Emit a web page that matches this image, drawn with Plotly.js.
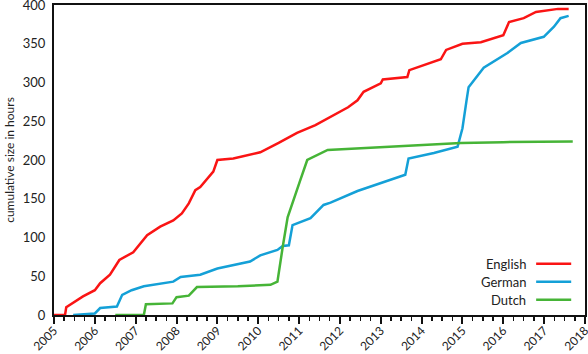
<!DOCTYPE html>
<html>
<head>
<meta charset="utf-8">
<script src="https://cdn.plot.ly/plotly-3.0.1.min.js"></script>
<style>
  body { margin: 0; background: #fff; }
  #plotDiv { width: 588px; height: 354px; }
</style>
</head>
<body>
<div id="plotDiv"></div>
<script>
// series names + colours
var names = ['English', 'German', 'Dutch'];
var colors = ['rgb(250, 20, 20)', 'rgb(20, 160, 215)', 'rgb(70, 180, 55)'];

// English (decimal years / hours)
var engX = [2005.0, 2005.27, 2005.3, 2005.5, 2005.71, 2006.0, 2006.13, 2006.37, 2006.6, 2006.94, 2007.28, 2007.6, 2007.92, 2008.13, 2008.3, 2008.46, 2008.58, 2008.9, 2009.0, 2009.39, 2010.05, 2010.5, 2010.95, 2011.4, 2011.84, 2012.2, 2012.43, 2012.58, 2013.0, 2013.05, 2013.65, 2013.7, 2014.47, 2014.6, 2015.0, 2015.45, 2016.0, 2016.14, 2016.5, 2016.8, 2017.34, 2017.6];
var engY = [0, 0, 10, 17, 24, 32, 41, 52, 71, 81, 103, 114, 122, 131, 144, 161, 165, 185, 200, 202, 210, 222, 235, 245, 258, 268, 277, 288, 299, 304, 307, 316, 330, 342, 350, 352, 361, 378, 383, 391, 395, 395];

// German
var gerX = [2005.47, 2006.0, 2006.13, 2006.54, 2006.67, 2006.9, 2007.2, 2007.92, 2008.1, 2008.58, 2009.0, 2009.8, 2010.05, 2010.47, 2010.6, 2010.75, 2010.84, 2011.28, 2011.6, 2011.77, 2012.43, 2013.24, 2013.6, 2013.68, 2014.3, 2014.88, 2015.0, 2015.1, 2015.15, 2015.52, 2016.1, 2016.43, 2016.99, 2017.24, 2017.4, 2017.6];
var gerY = [0, 2, 9, 11, 26, 32, 37, 43, 49, 52, 60, 69, 77, 84, 89, 90, 116, 125, 142, 145, 160, 174, 181, 202, 209, 217, 241, 277, 294, 319, 338, 351, 359, 372, 383, 386];

// Dutch
var dutX = [2006.5, 2007.2, 2007.25, 2007.9, 2008.0, 2008.3, 2008.5, 2009.5, 2010.3, 2010.47, 2010.6, 2010.72, 2011.03, 2011.2, 2011.7, 2013.3, 2014.96, 2016.0, 2017.7];
var dutY = [0, 0, 14, 15, 23, 25, 36, 37, 39, 43, 88, 126, 174, 200, 213, 217, 222, 223, 224];

var yearTicks = [2005, 2006, 2007, 2008, 2009, 2010, 2011, 2012, 2013, 2014, 2015, 2016, 2017, 2018];
var yTicks = [0, 50, 100, 150, 200, 250, 300, 350, 400];

var xs = [engX, gerX, dutX];
var ys = [engY, gerY, dutY];

var data = [];
for (var i = 0; i < names.length; i++) {
  data.push({
    x: xs[i],
    y: ys[i],
    mode: 'lines',
    type: 'scatter',
    name: names[i],
    line: { color: colors[i], width: 2.5 },
    showlegend: false
  });
}

// legend drawn by hand: label first, then line sample
var annotations = [];
var shapes = [];
for (var i = 0; i < names.length; i++) {
  var yy = 0.165 - i * 0.058;
  annotations.push({
    xref: 'paper', yref: 'paper', x: 0.893, y: yy,
    xanchor: 'right', yanchor: 'middle', showarrow: false,
    text: names[i], font: { size: 13, color: '#222' }
  });
  shapes.push({
    type: 'line', xref: 'paper', yref: 'paper',
    x0: 0.908, x1: 0.974, y0: yy, y1: yy,
    line: { color: colors[i], width: 2.5 }
  });
}

var layout = {
  width: 588,
  height: 354,
  font: { family: 'Lato, "Open Sans", sans-serif', size: 13, color: '#222' },
  paper_bgcolor: '#fff',
  plot_bgcolor: '#fff',
  margin: { l: 54, r: 3, t: 5, b: 39, pad: 0 },
  xaxis: {
    range: [2005, 2018],
    tickvals: yearTicks,
    ticktext: yearTicks.map(String),
    tickangle: -45,
    tickfont: { size: 12 },
    ticks: 'outside',
    ticklen: 7,
    tickwidth: 2,
    tickcolor: '#111',
    ticklabeloverflow: 'allow',
    ticklabelstandoff: -5,
    minor: { dtick: 0.25, tick0: 2005, ticks: 'outside', ticklen: 4, tickwidth: 1.5, tickcolor: '#111' },
    showgrid: false,
    zeroline: false,
    showline: true,
    linecolor: '#111',
    linewidth: 2,
    mirror: true
  },
  yaxis: {
    range: [0, 400],
    tickvals: yTicks,
    ticks: 'outside',
    ticklen: 4,
    tickcolor: 'rgba(0,0,0,0)',
    ticklabeloverflow: 'allow',
    showgrid: false,
    zeroline: false,
    showline: true,
    linecolor: '#111',
    linewidth: 2,
    mirror: true,
    title: { text: 'cumulative size in hours', font: { size: 12 }, standoff: 6 }
  },
  annotations: annotations,
  shapes: shapes
};

Plotly.newPlot('plotDiv', data, layout, { displayModeBar: false, staticPlot: true });
</script>
</body>
</html>
